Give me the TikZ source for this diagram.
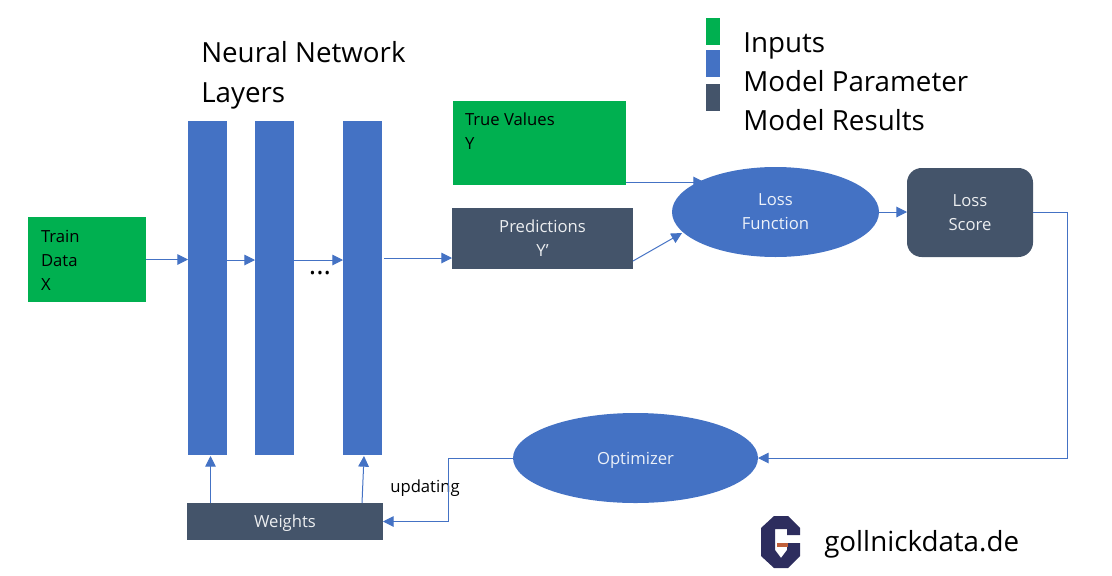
\documentclass[tikz,border=0pt]{standalone}
\usepackage{fontspec}
\setmainfont{Open Sans}
\usetikzlibrary{arrows.meta,shapes.geometric,backgrounds}
\definecolor{inputcol}{HTML}{00B050}
\definecolor{paramcol}{HTML}{4472C4}
\definecolor{resultcol}{HTML}{44546A}
\definecolor{logonavy}{HTML}{2D2D5E}
\definecolor{logorust}{HTML}{C0603A}
\tikzset{every picture/.style = {x=0.75pt, y=-0.75pt}}
\tikzset{box/.style = {shape=rectangle, inner sep=0, outer sep=0, font=\fontsize{12.5}{18}\selectfont}}
\tikzset{input/.style = {box, fill=inputcol, text=black}}
\tikzset{layer/.style = {box, fill=paramcol, minimum width=29.25pt, minimum height=250.5pt}}
\tikzset{result/.style = {box, fill=resultcol, text=white!90!resultcol, align=center}}
\tikzset{blob/.style = {box, shape=ellipse, fill=paramcol, text=white!90!paramcol, align=center}}
\tikzset{key/.style = {box, minimum width=10.5pt, minimum height=20.25pt}}
\tikzset{legend/.style = {anchor=base west, inner sep=0, font=\fontsize{20.8}{30}\selectfont}}
\tikzset{flow/.style = {draw=paramcol, line width=0.75pt, -{Triangle[length=8pt, width=8pt]}}}

\begin{document}
\begin{tikzpicture}
  \useasboundingbox (0, 0) rectangle (1112, 575);
  % layers
  \node(layer1)[layer] at (207.5, 288) {};
  \node(layer2)[layer] at (274.5, 287.5) {};
  \node(layer3)[layer] at (362.5, 287.5) {};
  \node(title)[legend, align=left] at (201, 102)
    {Neural Network\\Layers};
  \node(dots)[legend, anchor=base] at (320, 274) {...};
  % data boxes
  \node(train)[input, minimum width=88.5pt, minimum height=63.75pt] at (87, 259.5) {};
  \node(traintext)[box, anchor=west, align=left] at (41, 260) {Train\\Data\\X};
  \node(truth)[input, minimum width=129.75pt, minimum height=63pt] at (539.5, 143) {};
  \node(truthtext)[box, anchor=west, align=left] at (465, 131) {True Values\\Y};
  \node(pred)[result, minimum width=135.75pt, minimum height=45.75pt] at (542.5, 238.5)
    {Predictions\\Y'};
  \node(loss)[blob, minimum width=155.25pt, minimum height=67.5pt] at (775.5, 212)
    {Loss\\Function};
  \node(score)[result, rounded corners=11pt, minimum width=94.5pt, minimum height=66.75pt] at (970, 212.5)
    {Loss\\Score};
  \node(optim)[blob, text depth=0pt, minimum width=183.75pt, minimum height=67.5pt] at (635.5, 458) {Optimizer};
  \node(weights)[result, text depth=0pt, minimum width=147pt, minimum height=27.75pt] at (285, 521.5) {Weights};
  \node(upd)[box] at (425, 488) {updating};
  % free ends of the connectors
  \coordinate(c1) at (259, 260);
  \coordinate(c2) at (1067, 458);
  \coordinate(c3) at (448, 458);
  \coordinate(c4) at (704, 182);
  \coordinate(c5) at (682, 233);
  \coordinate(c6) at (633, 261);
  \coordinate(c7) at (626, 182);
  \coordinate(c8) at (210.5, 456);
  \coordinate(c9) at (362, 503);
  \coordinate(c10) at (364, 456);
  \coordinate(c11) at (384, 258);
  % connectors
  \begin{scope}[on background layer]
    \draw[flow] (c7) -- (c4);
  \end{scope}
  \draw[flow] (train.east) -- (layer1.west |- train.east);
  \draw[flow] (layer1.east |- c1) -- (layer2.west |- c1);
  \draw[flow] (layer2.east |- c1) -- (layer3.west |- c1);
  \draw[flow] (c11) -- (pred.west |- c11);
  \draw[flow] (c6) -- (c5);
  \draw[flow] (loss.east) -- (score.west |- loss.east);
  \draw[flow] (score.east) -| (c2) -- (optim.east);
  \draw[flow] (optim.west) -- (c3) |- (weights.east);
  \draw[flow] (c8 |- weights.north) -- (c8);
  \draw[flow] (c9) -- (c10);
  % legend
  \node(key1)[key, fill=inputcol] at (713, 31.5) {};
  \node(key2)[key, fill=paramcol] at (713, 63.5) {};
  \node(key3)[key, fill=resultcol] at (713, 97.5) {};
  \node(name1)[legend] at (743, 52) {Inputs};
  \node(name2)[legend] at (743, 91) {Model Parameter};
  \node(name3)[legend] at (743, 130) {Model Results};
  % logo
  \fill[logonavy] (774, 516) -- (788, 516) -- (800, 528) -- (800, 535) -- (787, 535) -- (787, 529)
    -- (775, 529) -- (775, 550) -- (781, 558) -- (787, 550) -- (787, 543) -- (800, 543)
    -- (800, 556) -- (788, 568) -- (774, 568) -- (761, 556) -- (761, 528) -- cycle;
  \fill[logorust] (777, 543) rectangle (788, 547);
  \node(site)[legend] at (824, 551) {gollnickdata.de};
\end{tikzpicture}
\end{document}
